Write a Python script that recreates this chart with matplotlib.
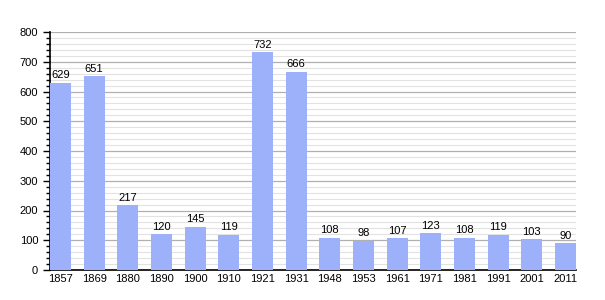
import matplotlib
matplotlib.use("Agg")
import matplotlib.pyplot as plt
from matplotlib.ticker import MultipleLocator

years = ['1857', '1869', '1880', '1890', '1900', '1910', '1921', '1931',
         '1948', '1953', '1961', '1971', '1981', '1991', '2001', '2011']
population = [629, 651, 217, 120, 145, 119, 732, 666,
              108, 98, 107, 123, 108, 119, 103, 90]

plt.rcParams['font.family'] = ['Liberation Sans', 'DejaVu Sans']

fig = plt.figure(figsize=(6.05, 3.0), dpi=100)
ax = fig.add_axes([50 / 605, 30 / 300, 526 / 605, 238 / 300])

w = 0.625
x = list(range(len(years)))
ax.bar(x, population, width=w, color='#9db0fa', zorder=3)
for xi, v in zip(x, population):
    ax.text(xi, v + 8, str(v), ha='center', va='bottom', fontsize=8, zorder=4)

ax.set_xlim(-w / 2, len(years) - 1 + w / 2)
ax.set_ylim(0, 800)
ax.set_xticks(x)
ax.set_xticklabels(years)
ax.yaxis.set_major_locator(MultipleLocator(100))
ax.yaxis.set_minor_locator(MultipleLocator(20))
ax.grid(axis='y', which='major', color='#b0b0b0', linewidth=0.9, zorder=1)
ax.grid(axis='y', which='minor', color='#e2e2e2', linewidth=0.8, zorder=0)

for s in ['top', 'right']:
    ax.spines[s].set_visible(False)
ax.spines['left'].set_linewidth(1.2)
ax.spines['bottom'].set_linewidth(1.2)
ax.tick_params(axis='x', length=0, labelsize=8, pad=3)
ax.tick_params(axis='y', which='major', length=5, width=1, labelsize=8)
ax.tick_params(axis='y', which='minor', length=3, width=1)

fig.savefig('out.png', dpi=100)
